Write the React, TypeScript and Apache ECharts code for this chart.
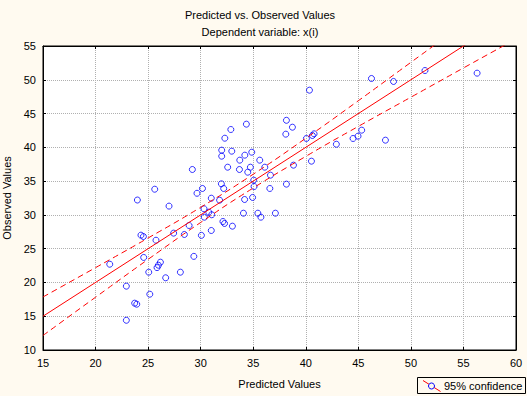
import React, { useEffect, useRef } from 'react';
import * as echarts from 'echarts';

// Scatter data
const predicted = [
  21.35, 22.93, 22.93, 23.72, 23.92, 23.98, 24.32, 24.55, 24.58, 25.06,
  25.16, 25.63, 25.75, 25.85, 25.98, 26.17, 26.67, 26.99, 27.43, 28.07,
  28.45, 28.9, 29.21, 29.35, 29.65, 30.07, 30.17, 30.32, 30.77, 30.35,
  31.05, 31.01, 31.8, 31.01, 31.97, 32.19, 32.12, 32.27, 33.02, 32.0,
  32.0, 32.3, 32.87, 32.96, 32.57, 33.72, 33.69, 34.2, 34.86, 34.35,
  34.73, 34.48, 34.18, 34.94, 35.05, 35.08, 34.07, 35.44, 35.73, 35.62,
  36.1, 36.64, 36.58, 37.11, 38.16, 38.73, 38.1, 38.83, 38.16, 40.35,
  40.06, 40.63, 40.79, 40.54, 42.91, 44.5, 44.97, 45.32, 46.25, 47.58,
  48.35, 51.34, 56.3,
];
const observed = [
  22.7, 19.45, 14.4, 16.93, 16.78, 32.2, 27.0, 26.8, 23.7, 21.52,
  18.26, 33.8, 26.25, 22.2, 22.55, 23.0, 20.69, 31.3, 27.3, 21.52,
  27.1, 28.43, 36.72, 23.86, 33.2, 26.97, 33.91, 30.9, 30.4, 29.66,
  30.02, 32.47, 32.18, 27.69, 34.6, 33.91, 29.02, 28.73, 28.33, 39.58,
  38.69, 41.35, 42.64, 39.43, 37.06, 38.1, 36.72, 38.84, 39.28, 43.43,
  37.06, 36.32, 32.28, 32.58, 35.14, 34.2, 30.25, 30.25, 29.66, 38.1,
  37.06, 35.88, 33.91, 30.25, 44.0, 42.98, 41.95, 37.36, 34.55, 48.46,
  41.31, 41.75, 42.0, 37.95, 40.46, 41.31, 41.65, 42.54, 50.19, 41.06,
  49.75, 51.37, 50.98,
];

// Fitted line and 95% confidence band
const fitX = [15, 60];
const fitY = [15, 60];
const bandX = [15, 20, 25, 30, 35, 40, 45, 50, 55, 60];
const bandUpper = [17.85, 22.19, 26.58, 31.12, 36.02, 41.34, 46.9, 52.58, 58.25, 63.96];
const bandLower = [12.15, 17.81, 23.42, 28.88, 33.98, 38.66, 43.1, 47.42, 51.75, 56.04];

const titleText = 'Predicted vs. Observed Values';
const subtitleText = 'Dependent variable: x(i)';
const xName = 'Predicted Values';
const yName = 'Observed Values';
const legendText = '95% confidence';

const FONT = '"Liberation Sans", Arial, sans-serif';
const BG = '#fffaf0';

export default function App() {
  const ref = useRef<HTMLDivElement>(null);
  useEffect(() => {
    if (!ref.current) return;
    const chart = echarts.init(ref.current, undefined, { renderer: 'svg' });
    const axisLine = { show: true, onZero: false, lineStyle: { color: '#000', width: 1 } };
    const tick = { show: true, inside: true, length: 3, lineStyle: { color: '#000' } };
    const grid = { show: true, lineStyle: { color: '#b0b0b0', type: [1, 1], width: 1 } };
    const label = { color: '#000', fontSize: 11, fontFamily: FONT };
    chart.setOption({
      animation: false,
      backgroundColor: BG,
      grid: {
        left: 43, right: 11, top: 46, bottom: 46,
        containLabel: false, outerBoundsMode: 'none',
        show: true, backgroundColor: '#ffffff', borderColor: '#000', borderWidth: 1,
      },
      xAxis: [
        {
          type: 'value', min: 15, max: 60, interval: 5, position: 'bottom',
          axisLine, axisTick: tick, splitLine: grid,
          axisLabel: { ...label, margin: 7 },
          name: xName, nameLocation: 'middle', nameGap: 28,
          nameTextStyle: { ...label },
        },
        {
          type: 'value', min: 15, max: 60, interval: 5, position: 'top',
          axisLine, axisTick: tick, splitLine: { show: false },
          axisLabel: { show: false },
        },
      ],
      yAxis: [
        {
          type: 'value', min: 10, max: 55, interval: 5, position: 'left',
          axisLine, axisTick: tick, splitLine: grid,
          axisLabel: { ...label, margin: 7 },
          name: yName, nameLocation: 'middle', nameGap: 22,
          nameTextStyle: { ...label },
        },
        {
          type: 'value', min: 10, max: 55, interval: 5, position: 'right',
          axisLine, axisTick: tick, splitLine: { show: false },
          axisLabel: { show: false },
        },
      ],
      series: [
        {
          type: 'line', data: bandX.map((x, i) => [x, bandUpper[i]]), smooth: true,
          symbol: 'none', lineStyle: { color: '#ff0000', width: 1, type: [6, 4] }, clip: true,
        },
        {
          type: 'line', data: bandX.map((x, i) => [x, bandLower[i]]), smooth: true,
          symbol: 'none', lineStyle: { color: '#ff0000', width: 1, type: [6, 4] }, clip: true,
        },
        {
          type: 'line', data: fitX.map((x, i) => [x, fitY[i]]),
          symbol: 'none', lineStyle: { color: '#ff0000', width: 1 }, clip: true,
        },
        {
          type: 'scatter', data: predicted.map((x, i) => [x, observed[i]]),
          symbol: 'circle', symbolSize: 6,
          itemStyle: { color: 'rgba(0,0,0,0)', borderColor: '#0000ff', borderWidth: 1 },
        },
      ],
      graphic: [
        {
          type: 'text', x: 260, y: 15,
          style: { text: titleText, fill: '#000', font: `11px ${FONT}`, textAlign: 'center', textVerticalAlign: 'middle' },
        },
        {
          type: 'text', x: 260, y: 32,
          style: { text: subtitleText, fill: '#000', font: `11px ${FONT}`, textAlign: 'center', textVerticalAlign: 'middle' },
        },
        {
          type: 'group', left: 417, top: 377,
          children: [
            { type: 'rect', shape: { x: 0.5, y: 0.5, width: 108, height: 16 }, style: { fill: BG, stroke: '#000', lineWidth: 1 } },
            { type: 'line', shape: { x1: 6, y1: 3.5, x2: 23.5, y2: 14.5 }, style: { stroke: '#ff0000', lineWidth: 1 } },
            { type: 'circle', shape: { cx: 14.5, cy: 9, r: 3 }, style: { fill: BG, stroke: '#0000ff', lineWidth: 1 } },
            { type: 'text', x: 27, y: 9, style: { text: legendText, fill: '#000', font: `11px ${FONT}`, textVerticalAlign: 'middle' } },
          ],
        },
      ],
    });
    return () => chart.dispose();
  }, []);
  return <div ref={ref} style={{ position: 'fixed', left: 0, top: 0, width: 527, height: 396 }} />;
}
